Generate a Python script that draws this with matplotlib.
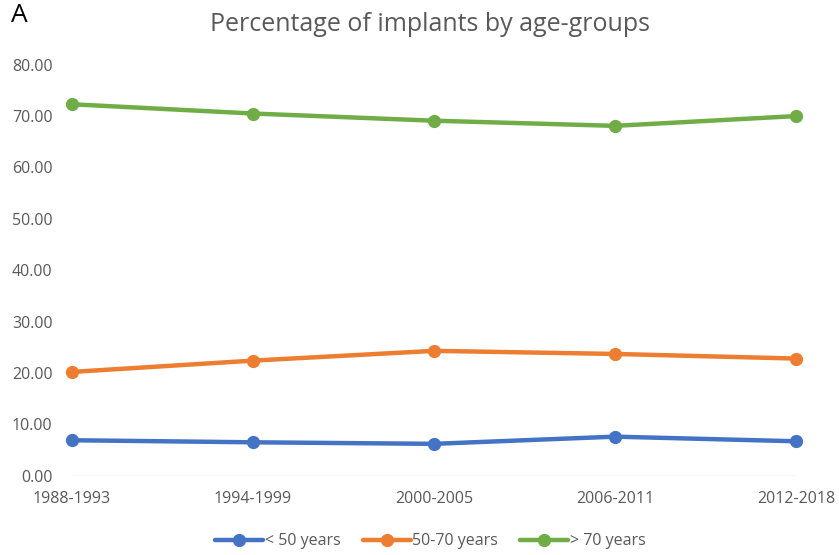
import matplotlib.pyplot as plt

periods = ["1988-1993", "1994-1999", "2000-2005", "2006-2011", "2012-2018"]
under_50 = [6.9, 6.5, 6.2, 7.6, 6.7]
from_50_to_70 = [20.2, 22.4, 24.3, 23.7, 22.8]
over_70 = [72.3, 70.5, 69.1, 68.1, 70.0]

labels = ["< 50 years", "50-70 years", "> 70 years"]
colors = ["#4472C4", "#ED7D31", "#70AD47"]

plt.rcParams['font.family'] = ['Open Sans', 'DejaVu Sans']

fig = plt.figure(figsize=(8.39, 5.55), dpi=100)
ax = fig.add_axes([0.0858, 0.1429, 0.863, 0.7405])

x = range(len(periods))
for series, lab, col in zip([under_50, from_50_to_70, over_70], labels, colors):
    ax.plot(x, series, color=col, lw=3.2, marker='o', markersize=8.5, label=lab,
            solid_capstyle='round', clip_on=False)

ax.set_xlim(0, len(periods) - 1)
ax.set_ylim(0, 80)
ax.set_yticks(range(0, 81, 10))
ax.set_yticklabels([f"{v:.2f}" for v in range(0, 81, 10)])
ax.set_xticks(list(x))
ax.set_xticklabels(periods)

for s in ax.spines.values():
    s.set_visible(False)
ax.axhline(0, color='#D9D9D9', lw=1, zorder=0)
ax.tick_params(axis='both', length=0, labelsize=11.5, labelcolor='#595959')
ax.tick_params(axis='y', pad=14)
ax.tick_params(axis='x', pad=11)

fig.text(0.513, 0.955, "Percentage of implants by age-groups", ha='center', va='center',
         fontsize=18, color='#595959')
fig.text(0.013, 0.972, "A", ha='left', va='center', fontsize=19, color='black')

fig.legend(loc='center', bbox_to_anchor=(0.513, 0.025), ncol=3, frameon=False,
           fontsize=11.5, labelcolor='#595959', handlelength=3.0, handletextpad=0.1,
           columnspacing=1.4)

fig.savefig("out.png", dpi=100)
